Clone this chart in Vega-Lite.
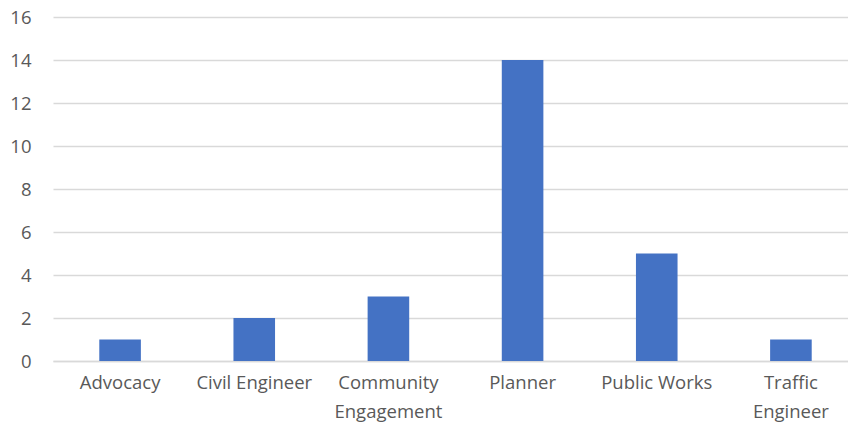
{
  "$schema": "https://vega.github.io/schema/vega-lite/v6.json",
  "autosize": "none",
  "width": 805,
  "height": 344,
  "padding": {"left": 53, "top": 17, "right": 0, "bottom": 74},
  "background": "white",
  "config": {"view": {"stroke": null}, "font": "Open Sans"},
  "data": {"values": [
    {"role": "Advocacy", "count": 1},
    {"role": "Civil Engineer", "count": 2},
    {"role": "Community Engagement", "count": 3},
    {"role": "Planner", "count": 14},
    {"role": "Public Works", "count": 5},
    {"role": "Traffic Engineer", "count": 1}
  ]},
  "mark": {"type": "bar", "color": "#4472C4"},
  "encoding": {
    "x": {
      "field": "role", "type": "nominal", "sort": null,
      "scale": {"paddingInner": 0.69, "paddingOuter": 0.345},
      "axis": {
        "title": null, "labelAngle": 0, "ticks": false,
        "domainColor": "#d9d9d9", "domainWidth": 1.5,
        "labelFontSize": 18.5, "labelColor": "#595959", "labelPadding": 12,
        "labelFont": "Open Sans", "labelLineHeight": 29,
        "labelExpr": "datum.label == 'Community Engagement' ? ['Community', 'Engagement'] : datum.label == 'Traffic Engineer' ? ['Traffic', 'Engineer'] : datum.label"
      }
    },
    "y": {
      "field": "count", "type": "quantitative",
      "scale": {"domain": [0, 16]},
      "axis": {
        "title": null, "values": [0, 2, 4, 6, 8, 10, 12, 14, 16],
        "domain": false, "ticks": false,
        "gridColor": "#d9d9d9", "gridWidth": 1.5,
        "labelFontSize": 18.5, "labelColor": "#595959", "labelPadding": 22,
        "labelFont": "Open Sans"
      }
    }
  }
}
